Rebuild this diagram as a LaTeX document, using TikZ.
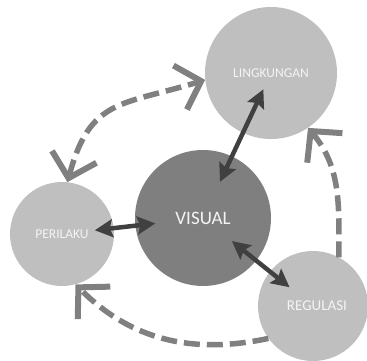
\documentclass[tikz,border=0pt]{standalone}
\usepackage{fontspec}
\setmainfont{Carlito}
\usetikzlibrary{arrows.meta}
\definecolor{lightgr}{HTML}{BFBFBF}
\definecolor{midgr}{HTML}{7F7F7F}
\definecolor{darkgr}{HTML}{404040}
\definecolor{dashgr}{HTML}{808080}
\definecolor{labelgr}{HTML}{F4F4F4}

\begin{document}
\begin{tikzpicture}[x=1pt,y=1pt,
  disc/.style={circle,fill=lightgr,inner sep=0pt,text=labelgr},
  chev/.tip={Straight Barb[length=22pt,width=46pt,line width=6pt]},
  bolt/.tip={Stealth[length=18pt,width=18pt,inset=3pt]},
  link/.style={draw=darkgr,line width=4.5pt,bolt-bolt},
  dashlink/.style={draw=dashgr,line width=5.5pt,dash pattern=on 16pt off 7pt}]

\useasboundingbox (0,0) rectangle (367,360);

\node[disc,minimum size=132pt,font=\fontsize{13.5pt}{14pt}\selectfont] (ling) at (271,287) {LINGKUNGAN};
\node[disc,fill=midgr,minimum size=136pt,font=\fontsize{19pt}{20pt}\selectfont] (vis) at (203,142) {VISUAL};
\node[disc,minimum size=104pt,font=\fontsize{13.5pt}{14pt}\selectfont] (per) at (62,126) {PERILAKU};
\node[disc,minimum size=110pt,font=\fontsize{15pt}{16pt}\selectfont] (reg) at (313,54) {\hspace*{8pt}REGULASI};

\draw[link,shorten <=40pt,shorten >=18pt] (vis.center) -- (ling.center);
\draw[link,shorten <=48pt,shorten >=33pt] (vis.center) -- (per.center);
\draw[link,shorten <=37pt,shorten >=30pt] (vis.center) -- (reg.center);

\draw[dashlink,chev-chev] (per.84) to[out=75,in=197,looseness=1.3] (ling.186);
\draw[dashlink,-chev] (reg.62) to[out=90,in=-50] (ling.-56);
\draw[dashlink,-chev] (reg.216) to[out=192,in=-45] (per.-75);

\end{tikzpicture}
\end{document}
